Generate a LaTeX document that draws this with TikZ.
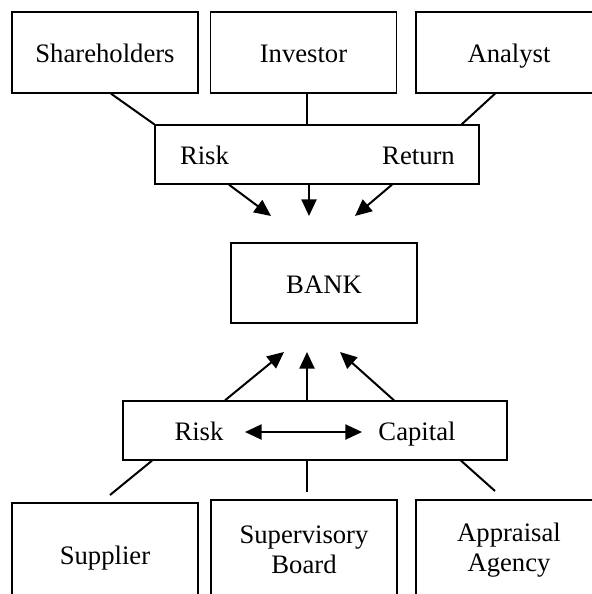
\documentclass[tikz,border=0pt]{standalone}
\usepackage{fontspec}
\setmainfont{Liberation Serif}
\usetikzlibrary{arrows.meta}

\begin{document}
\begin{tikzpicture}[x=0.45pt, y=-0.45pt,
	every node/.style={font=\fontsize{12}{13.5}\selectfont},
	lbl/.style={text height=9.4pt, text depth=0pt},
	box/.style={draw, line width=0.6pt, inner sep=0pt, align=center},
	link/.style={line width=0.9pt},
	flow/.style={line width=0.9pt, -{Triangle[length=7.5pt, width=6.8pt]}}]
	\useasboundingbox (0,0) rectangle (592,594);
	\clip (0,0) rectangle (592,594);
	% top row
	\node (share) [box, lbl, minimum width=83.7pt, minimum height=36.45pt] at (105,52.5) {Shareholders};
	\node (inv) [box, lbl, minimum width=83.7pt, minimum height=36.45pt] at (303.5,52.5) {Investor};
	\node (anal) [box, lbl, minimum width=83.7pt, minimum height=36.45pt] at (509,52.5) {Analyst};
	% risk / return
	\node (rr) [box, minimum width=145.8pt, minimum height=26.55pt] at (317,154.5) {};
	\node (rrRisk) [lbl] at (204.5,154.5) {Risk};
	\node (rrReturn) [lbl] at (418.5,154.5) {Return};
	% bank
	\node (bank) [box, lbl, minimum width=83.7pt, minimum height=36pt] at (324,283) {BANK};
	% risk / capital
	\node (rc) [box, minimum width=172.8pt, minimum height=26.55pt] at (315,430.5) {};
	\node (rcRisk) [lbl] at (199,430.5) {Risk};
	\node (rcCapital) [lbl] at (417,430.5) {Capital};
	% bottom row
	\node (supp) [box, lbl, minimum width=83.7pt, minimum height=45.9pt] at (105,554) {Supplier};
	\node (board) [box, minimum width=83.7pt, minimum height=45pt] at (304,550) {Supervisory\\Board};
	\node (agency) [box, minimum width=83.7pt, minimum height=45pt] at (509,550) {Appraisal\\Agency};

	% upper links
	\draw[link] ([xshift=2.7pt]share.south) -- (rr.north west);
	\draw[link] ([xshift=1.6pt]inv.south) -- ([xshift=1.6pt]inv.south |- rr.north);
	\draw[link] ([xshift=-6.3pt]anal.south) -- ([xshift=-8.1pt]rr.north east);
	\coordinate (inL) at (271,216);
	\coordinate (inM) at (309,216);
	\coordinate (inR) at (355,216);
	\draw[flow] (rr.south -| 229,0) -- (inL);
	\draw[flow] (rr.south -| inM) -- (inM);
	\draw[flow] (rr.south -| 392,0) -- (inR);

	% lower links
	\coordinate (upL) at (284,352);
	\coordinate (upM) at (307,352);
	\coordinate (upR) at (340,352);
	\draw[flow] (rc.north -| 225,0) -- (upL);
	\draw[flow] (rc.north -| upM) -- (upM);
	\draw[flow] (rc.north -| 394,0) -- (upR);
	\coordinate (rcA) at (245,432);
	\coordinate (rcB) at (362,432);
	\draw[flow, {Triangle[length=7.5pt, width=6.8pt]}-{Triangle[length=7.5pt, width=6.8pt]}] (rcA) -- (rcB);
	\coordinate (dnL) at (110,495);
	\coordinate (dnM) at (307,492);
	\coordinate (dnR) at (495,491);
	\draw[link] (rc.south -| 152,0) -- (dnL);
	\draw[link] (rc.south -| dnM) -- (dnM);
	\draw[link] (rc.south -| 461,0) -- (dnR);
\end{tikzpicture}
\end{document}
